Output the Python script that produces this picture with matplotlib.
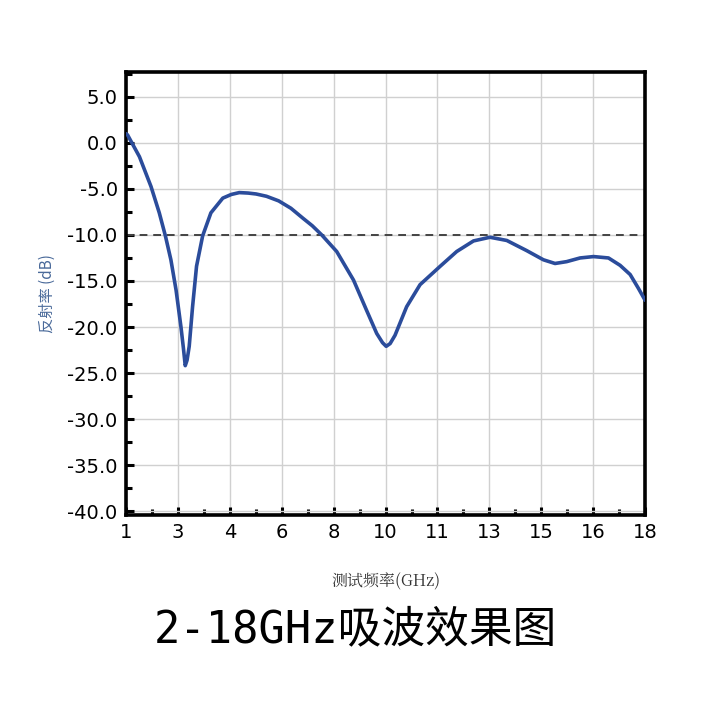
import numpy as np
import matplotlib.pyplot as plt
from matplotlib.ticker import MultipleLocator, AutoMinorLocator

plt.rcParams['font.family'] = ['Noto Sans CJK SC', 'DejaVu Sans']

freq = [1.0, 1.05, 1.44, 1.82, 2.09, 2.29, 2.47, 2.64, 2.80, 2.88, 2.94, 3.0, 3.07,
        3.18, 3.31, 3.51, 3.78, 4.17, 4.45, 4.71, 5.0, 5.26, 5.6, 6.0, 6.4, 6.8, 7.1,
        7.41, 7.9, 8.45, 8.88, 9.21, 9.4, 9.52, 9.65, 9.81, 10.19, 10.63, 11.29, 11.83,
        12.38, 12.92, 13.47, 14.12, 14.67, 15.05, 15.43, 15.87, 16.31, 16.8, 17.18,
        17.51, 17.78, 18.0]
refl = [1.0, 0.87, -1.5, -4.75, -7.6, -10.1, -12.7, -16.0, -20.0, -22.3, -24.2, -23.6, -22.1,
        -17.8, -13.4, -10.1, -7.6, -6.0, -5.6, -5.4, -5.45, -5.55, -5.8, -6.3, -7.1, -8.2, -9.0,
        -10.0, -11.8, -14.9, -18.2, -20.7, -21.7, -22.1, -21.8, -20.9, -17.8, -15.4, -13.4, -11.8,
        -10.65, -10.25, -10.6, -11.7, -12.7, -13.1, -12.9, -12.5, -12.35, -12.5, -13.3,
        -14.3, -15.8, -17.1]

threshold = -10.0
xtick_labels = ['1', '3', '4', '6', '8', '10', '11', '13', '15', '16', '18']
yticks = [5.0, 0.0, -5.0, -10.0, -15.0, -20.0, -25.0, -30.0, -35.0, -40.0]

fig = plt.figure(figsize=(7.2, 7.2), dpi=100)
ax = fig.add_axes([0.175, 0.285, 0.721, 0.615])

ax.plot(freq, refl, color='#2b4c9b', linewidth=2.6, solid_capstyle='round',
        solid_joinstyle='round', zorder=3)
ax.axhline(threshold, color='#444444', linestyle=(0, (4, 3)), linewidth=1.4, zorder=2)

ax.set_xlim(1, 18)
ax.set_ylim(-40.4, 7.7)

xt = np.linspace(1, 18, len(xtick_labels))
ax.set_xticks(xt)
ax.set_xticklabels(xtick_labels)
ax.xaxis.set_minor_locator(AutoMinorLocator(2))
ax.set_yticks(yticks)
ax.set_yticklabels([f'{v:.1f}' for v in yticks])
ax.yaxis.set_minor_locator(MultipleLocator(2.5))

ax.grid(True, which='major', color='#d0d0d0', linewidth=1.0, zorder=0)

ax.tick_params(axis='both', which='major', direction='in', length=6, width=2.2,
               labelsize=14, pad=6, colors='black')
ax.tick_params(axis='both', which='minor', direction='in', length=4, width=2.2)
for lab in ax.get_xticklabels() + ax.get_yticklabels():
    lab.set_family(['Liberation Sans Narrow', 'DejaVu Sans'])

for sp in ax.spines.values():
    sp.set_linewidth(2.6)
    sp.set_color('black')

ax.set_ylabel('反射率 (dB)', fontsize=11, color='#4a6a9a', labelpad=8)
ax.set_xlabel('测试频率(GHz)', fontsize=11.5, color='#333333', labelpad=22,
              family=['Noto Serif CJK SC', 'Noto Sans CJK SC', 'DejaVu Sans'])

fig.text(0.493, 0.125, '2-18GHz吸波效果图', fontsize=31.5, color='black',
         ha='center', va='center', family=['DejaVu Sans Mono', 'Noto Sans CJK SC'])

fig.savefig('out.png', dpi=100, facecolor='white')
